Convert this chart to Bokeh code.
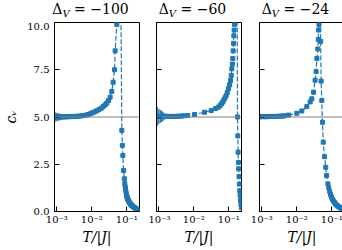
from bokeh.plotting import figure
from bokeh.layouts import row, column
from bokeh.models import Range1d, FixedTicker, Span, Div, CustomJSTickFormatter
from bokeh.embed import file_html
from bokeh.resources import INLINE

# ---------------- data ----------------
panel_titles = ["−100", "−60", "−24"]
x_ticks = [0.001, 0.01, 0.1]
x_tick_labels = ["10⁻³", "10⁻²", "10⁻¹"]
y_ticks = [0, 2.5, 5, 7.5, 10]
y_tick_labels = ["0.0", "2.5", "5.0", "7.5", "10.0"]
reference_level = 5.0

T_dv100 = [0.0009, 0.001, 0.0011, 0.0012, 0.0013, 0.0014, 0.0016, 0.0018, 0.002, 0.0023,
           0.0026, 0.003, 0.0034, 0.0039, 0.0045, 0.0052, 0.006, 0.0068, 0.0078, 0.009,
           0.0104, 0.012, 0.0139, 0.016, 0.0185, 0.021, 0.024, 0.0268, 0.030, 0.0333,
           0.0372, 0.0406, 0.0445, 0.0463, 0.0518, 0.059, 0.067, 0.072, 0.0745, 0.077,
           0.0807, 0.085, 0.0875, 0.09, 0.092, 0.095, 0.098, 0.1, 0.103, 0.106,
           0.11, 0.114, 0.118, 0.123, 0.128, 0.134, 0.14, 0.147, 0.155, 0.163,
           0.172, 0.182, 0.193, 0.205]
c_dv100 = [5.00, 5.00, 5.00, 5.00, 5.00, 5.00, 5.01, 5.01, 5.01, 5.02,
           5.02, 5.03, 5.03, 5.04, 5.05, 5.06, 5.08, 5.10, 5.13, 5.17,
           5.22, 5.27, 5.33, 5.39, 5.46, 5.55, 5.64, 5.74, 5.87, 6.05,
           6.35, 6.84, 7.50, 8.50, 9.90, 25.0, 12.0, 4.29, 3.50, 2.96,
           2.17, 1.73, 1.47, 1.30, 1.18, 1.02, 0.88, 0.80, 0.72, 0.66,
           0.60, 0.54, 0.49, 0.44, 0.39, 0.35, 0.31, 0.28, 0.24, 0.21,
           0.18, 0.15, 0.12, 0.10]
e_dv100 = [0.25, 0.22, 0.20, 0.18, 0.15, 0.13, 0.10, 0.08, 0.06, 0.05,
           0.04, 0.03, 0.02, 0.02, 0.01] + [0.0] * 49

T_dv60 = [0.0009, 0.001, 0.0011, 0.0012, 0.0013, 0.0014, 0.0016, 0.0018, 0.002, 0.0023,
          0.0026, 0.003, 0.0034, 0.0039, 0.0045, 0.0052, 0.0067, 0.0105, 0.0202, 0.0314,
          0.0420, 0.050, 0.056, 0.062, 0.0673, 0.072, 0.078, 0.0841, 0.09, 0.098,
          0.105, 0.112, 0.117, 0.1216, 0.126, 0.13, 0.133, 0.136, 0.139, 0.142,
          0.1455, 0.155, 0.165, 0.172, 0.177, 0.181, 0.184, 0.188, 0.191, 0.195,
          0.2, 0.205, 0.21, 0.216, 0.222, 0.228]
c_dv60 = [5.03, 5.03, 5.03, 5.03, 5.03, 5.03, 5.03, 5.03, 5.03, 5.03,
          5.03, 5.03, 5.04, 5.04, 5.05, 5.06, 5.08, 5.13, 5.25, 5.34,
          5.45, 5.52, 5.60, 5.70, 5.79, 5.90, 6.02, 6.14, 6.30, 6.50,
          6.70, 6.93, 7.20, 7.55, 7.80, 8.10, 8.50, 8.90, 9.30, 9.60,
          9.90, 16.0, 22.0, 12.0, 5.00, 4.00, 3.14, 2.60, 2.26, 1.85,
          1.45, 1.10, 0.85, 0.58, 0.38, 0.20]
e_dv60 = [0.50, 0.40, 0.35, 0.30, 0.25, 0.20, 0.15, 0.12, 0.08, 0.06,
          0.04, 0.03, 0.02, 0.01] + [0.0] * 42

T_dv24 = [0.0009, 0.001, 0.0011, 0.0012, 0.0013, 0.0014, 0.0016, 0.0018, 0.002, 0.0023,
          0.0026, 0.003, 0.0034, 0.0039, 0.0045, 0.0058, 0.01, 0.0139, 0.0193, 0.024,
          0.0268, 0.030, 0.0333, 0.0356, 0.0375, 0.0398, 0.041, 0.042, 0.043, 0.045,
          0.047, 0.048, 0.0494, 0.0517, 0.054, 0.0568, 0.062, 0.067, 0.071, 0.0775,
          0.082, 0.087, 0.092, 0.098, 0.105, 0.112, 0.12, 0.128, 0.137, 0.147,
          0.158, 0.17, 0.183, 0.197, 0.212, 0.228]
c_dv24 = [5.02, 5.02, 5.02, 5.02, 5.02, 5.02, 5.02, 5.03, 5.03, 5.03,
          5.03, 5.04, 5.04, 5.05, 5.06, 5.10, 5.20, 5.32, 5.55, 5.80,
          5.96, 6.31, 6.95, 7.40, 8.10, 8.60, 9.10, 9.60, 9.90, 20.0,
          12.0, 9.00, 6.90, 5.87, 4.72, 3.67, 2.90, 2.34, 1.90, 1.46,
          1.25, 1.05, 0.90, 0.76, 0.64, 0.55, 0.47, 0.40, 0.34, 0.29,
          0.25, 0.21, 0.18, 0.15, 0.12, 0.10]
e_dv24 = [0.15, 0.13, 0.12, 0.10, 0.08, 0.06, 0.05, 0.04, 0.03, 0.02] + [0.0] * 46

series = [(T_dv100, c_dv100, e_dv100), (T_dv60, c_dv60, e_dv60), (T_dv24, c_dv24, e_dv24)]

BLUE = "#1f77b4"
FONT = "DejaVu Serif"
FRAME_W, FRAME_H = 85, 189
TITLE_H = 22
BORDERS = [(48, 9), (8, 8), (10, 4)]


def make_panel(idx, T, c, err, min_left, min_right):
    p = figure(x_axis_type="log", frame_width=FRAME_W, frame_height=FRAME_H,
               min_border_left=min_left, min_border_right=min_right,
               min_border_top=0, min_border_bottom=39,
               x_range=Range1d(8.6e-4, 0.23), y_range=Range1d(0, 10),
               output_backend="svg", toolbar_location=None)
    p.xgrid.visible = False
    p.ygrid.visible = False
    p.outline_line_color = "black"
    p.outline_line_width = 1
    p.background_fill_color = "white"
    p.border_fill_color = "white"

    p.add_layout(Span(location=reference_level, dimension="width",
                      line_color="#808080", line_width=1.2))

    lo = [ci - ei for ci, ei in zip(c, err)]
    hi = [ci + ei for ci, ei in zip(c, err)]
    p.segment(x0=T, y0=lo, x1=T, y1=hi, line_color=BLUE, line_width=1.3)
    p.line(T, c, line_color=BLUE, line_width=1.2, line_dash="5 2")
    p.scatter(T, c, marker="square", size=4, fill_color=BLUE, line_color=BLUE)

    for ax in (p.xaxis[0], p.yaxis[0]):
        ax.axis_line_color = "black"
        ax.major_tick_line_color = "black"
        ax.major_tick_in = 5
        ax.major_tick_out = 0
        ax.minor_tick_line_color = None
        ax.major_label_text_font = FONT
        ax.major_label_text_font_size = "10px"
        ax.major_label_text_color = "black"
        ax.axis_label_text_font = FONT
        ax.axis_label_text_font_style = "italic"
        ax.axis_label_text_font_size = "14px"
        ax.axis_label_text_color = "black"

    p.xaxis.ticker = FixedTicker(ticks=x_ticks)
    p.xaxis.major_label_overrides = dict(zip(x_ticks, x_tick_labels))
    p.xaxis.major_label_standoff = 2
    p.xaxis.axis_label = "T/|J|"
    p.xaxis.axis_label_standoff = 1

    p.yaxis.ticker = FixedTicker(ticks=y_ticks)
    if idx == 0:
        p.yaxis.major_label_overrides = dict(zip(y_ticks, y_tick_labels))
        p.yaxis.major_label_standoff = 5
        p.yaxis.axis_label = "cᵥ"
        p.yaxis.axis_label_standoff = 5
    else:
        p.yaxis.formatter = CustomJSTickFormatter(code="return '';")
        p.yaxis.major_label_standoff = 0
    return p


figs = []
spans = []
x0 = 0
for i, (T, c, e) in enumerate(series):
    bl, br = BORDERS[i]
    figs.append(make_panel(i, T, c, e, bl, br))
    cx = x0 + bl + FRAME_W / 2
    spans.append(
        '<span style="position:absolute;left:%.1fpx;top:2px;transform:translateX(-50%%);'
        'white-space:nowrap;font-family:\'DejaVu Serif\';font-size:14px;line-height:14px;color:black;">'
        'Δ<span style="font-size:10px;font-style:italic;position:relative;top:3px;">V</span>'
        '&nbsp;=&nbsp;%s</span>' % (cx, panel_titles[i]))
    x0 += bl + FRAME_W + br

title_div = Div(text='<div style="position:relative;width:%dpx;height:%dpx;">%s</div>'
                % (x0, TITLE_H, "".join(spans)),
                width=x0, height=TITLE_H, margin=(0, 0, 0, 0))

layout = column(title_div, row(*figs, spacing=0), spacing=0)
open("out.html", "w").write(file_html(layout, INLINE))
